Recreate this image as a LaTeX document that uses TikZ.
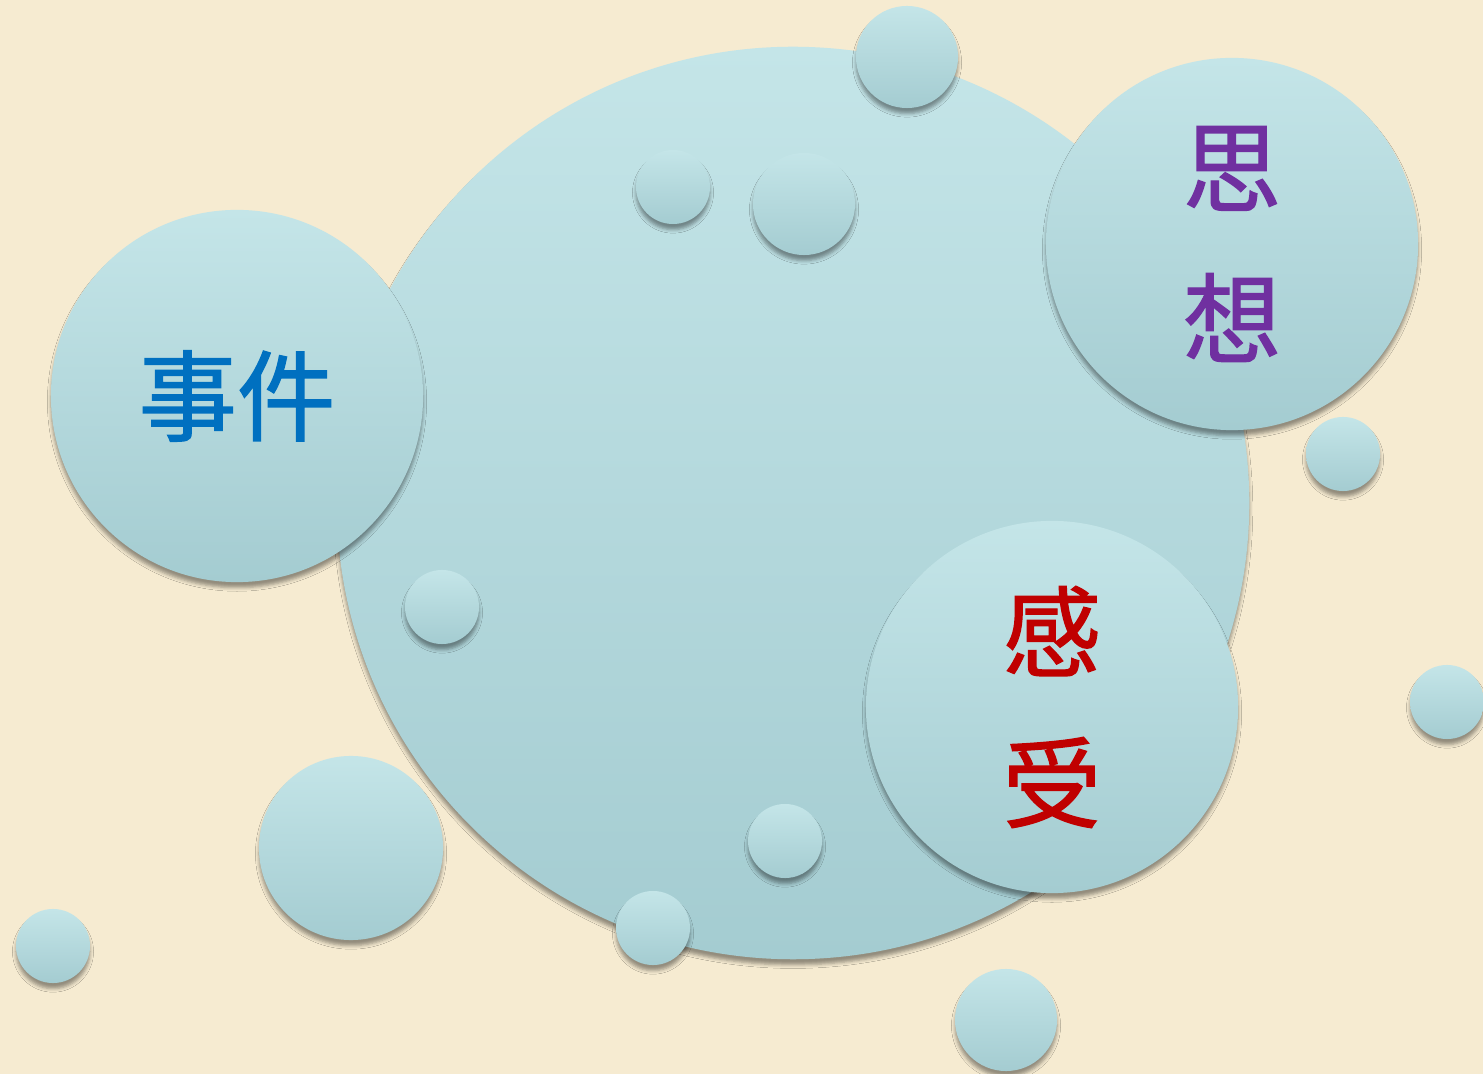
\documentclass[tikz,border=0pt]{standalone}
\usepackage{fontspec}
\newfontfamily\cjk[FakeBold=1.3]{Noto Sans CJK SC}
\usetikzlibrary{shadows.blur}
\definecolor{paper}{RGB}{246,235,209}
\definecolor{bubbletop}{RGB}{196,229,232}
\definecolor{bubblebot}{RGB}{164,204,209}
\definecolor{wordblue}{RGB}{0,112,192}
\definecolor{wordpurple}{RGB}{112,48,160}
\definecolor{wordred}{RGB}{192,0,0}
\tikzset{
  bubble/.style={
    circle,
    inner sep=0pt,
    minimum size=#1,
    top color=bubbletop,
    bottom color=bubblebot,
    blur shadow={shadow xshift=0pt, shadow yshift=-1.6pt, shadow blur radius=1pt, shadow opacity=40}
  },
  word/.style={
    font=\cjk\fontsize{28}{43}\selectfont,
    align=center
  }
}

\begin{document}
\begin{tikzpicture}[x=0.01cm, y=-0.01cm]
  \useasboundingbox (0,0) rectangle (1483,1074);
  % paper background
  \fill[paper] (0,0) rectangle (1483,1074);
  % big bubble
  \node[bubble=9.12cm] (main) at (793,503) {};
  % word bubbles
  \node[bubble=3.72cm, word, text=wordblue] (event) at (237,396) {事件};
  \node[bubble=3.72cm, word, text=wordpurple] (thought) at (1232,244) {思\\想};
  \node[bubble=3.72cm, word, text=wordred] (feeling) at (1052,707) {感\\受};
  % small bubbles
  \node[bubble=1.02cm] (topdot) at (907,57) {};
  \node[bubble=0.74cm] (dota) at (673,187) {};
  \node[bubble=1.02cm] (dotb) at (804,204) {};
  \node[bubble=0.74cm] (dotc) at (1343,454) {};
  \node[bubble=0.74cm] (dotd) at (442,607) {};
  \node[bubble=0.74cm] (dote) at (1447,702) {};
  \node[bubble=1.84cm] (dotf) at (351,848) {};
  \node[bubble=0.74cm] (dotg) at (785,841) {};
  \node[bubble=0.74cm] (doth) at (653,928) {};
  \node[bubble=0.74cm] (doti) at (53,946) {};
  \node[bubble=1.02cm] (dotj) at (1006,1020) {};
\end{tikzpicture}
\end{document}
